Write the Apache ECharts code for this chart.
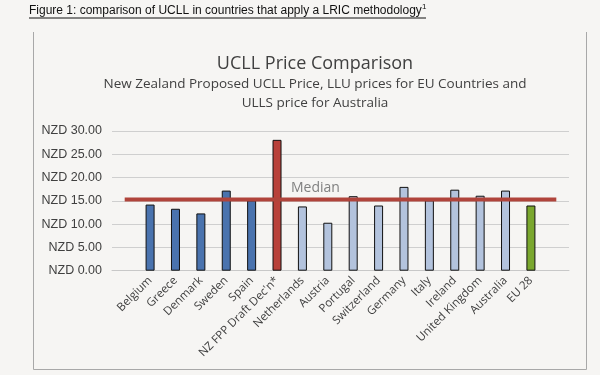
<!DOCTYPE html>
<html><head><meta charset="utf-8">
<script src="https://cdn.jsdelivr.net/npm/echarts@6/dist/echarts.min.js"></script>
<style>html,body{margin:0;padding:0;background:#f6f5f3;}#c{width:600px;height:375px;}</style>
</head><body><div id="c"></div>
<script>
const categories = ['', 'Belgium', 'Greece', 'Denmark', 'Sweden', 'Spain', "NZ FPP Draft Dec'n*", 'Netherlands', 'Austria', 'Portugal', 'Switzerland', 'Germany', 'Italy', 'Ireland', 'United Kingdom', 'Australia', 'EU 28', ''];
const prices = [null, 14.2, 13.3, 12.3, 17.2, 15.1, 28.1, 13.8, 10.3, 16.0, 14.0, 18.0, 15.1, 17.4, 16.1, 17.2, 14.0, null];
const groups = ['', 'eu', 'eu', 'eu', 'eu', 'eu', 'nz', 'eu2', 'eu2', 'eu2', 'eu2', 'eu2', 'eu2', 'eu2', 'eu2', 'eu2', 'eu28', ''];
const medianValue = 15.3;
const yTicks = [0, 5, 10, 15, 20, 25, 30];

const colorMap = {eu: '#4a73ae', nz: '#b8413a', eu2: '#b3c3dd', eu28: '#7aa72e', '': '#000'};
const chart = echarts.init(document.getElementById('c'));
const font = '"Open Sans", "Noto Sans", sans-serif';
chart.setOption({
  backgroundColor: '#f6f5f3',
  animation: false,
  title: {
    text: 'UCLL Price Comparison',
    subtext: 'New Zealand Proposed UCLL Price, LLU prices for EU Countries and\nULLS price for Australia',
    left: 310, textAlign: 'center', top: 50,
    itemGap: 2,
    textStyle: {fontFamily: font, fontSize: 18, fontWeight: 'normal', color: '#404040'},
    subtextStyle: {fontFamily: font, fontSize: 13.5, color: '#404040', lineHeight: 19, align: 'center'}
  },
  grid: {left: 112, right: 31, top: 131, bottom: 104.3, containLabel: false},
  xAxis: {
    type: 'category', data: categories,
    axisLine: {show: true, lineStyle: {color: '#c8c8c8'}},
    axisTick: {show: false},
    axisLabel: {interval: 0, rotate: 45, fontFamily: font, fontSize: 11.5, color: '#404040', margin: 8}
  },
  yAxis: {
    type: 'value', min: 0, max: 30, interval: 5,
    axisLine: {show: false}, axisTick: {show: false},
    splitLine: {lineStyle: {color: '#cfcfcf'}},
    axisLabel: {fontFamily: 'Arial, "Liberation Sans", sans-serif', fontSize: 12.5, color: '#404040', margin: 10,
      formatter: v => yTicks.includes(v) ? 'NZD ' + v.toFixed(2) : ''}
  },
  series: [{
    type: 'bar', barWidth: 9,
    data: prices.map((v, i) => ({value: v, itemStyle: {color: colorMap[groups[i]], borderColor: '#111', borderWidth: 1}})),
    z: 2
  }, {
    type: 'line', data: categories.map(() => medianValue),
    symbol: 'none', lineStyle: {color: '#b0443b', width: 4}, z: 3
  }],
  graphic: [
    {type: 'text', left: 29, top: 5, style: {text: 'Figure 1: comparison of UCLL in countries that apply a LRIC methodology', font: '12px Arial, "Liberation Sans"', fill: '#111'}},
    {type: 'text', left: 422, top: 3, style: {text: '1', font: '8px Arial, "Liberation Sans"', fill: '#111'}},
    {type: 'line', shape: {x1: 29, y1: 18, x2: 426, y2: 18}, style: {stroke: '#111', lineWidth: 1}},
    {type: 'polyline', shape: {points: [[33.5, 32], [33.5, 369.5], [586.5, 369.5], [586.5, 32]]}, style: {stroke: '#a8a8a8', lineWidth: 1, fill: null}},
    {type: 'text', left: 291, top: 181, style: {text: 'Median', font: '14px ' + font, fill: '#808080'}}
  ]
});
</script></body></html>
